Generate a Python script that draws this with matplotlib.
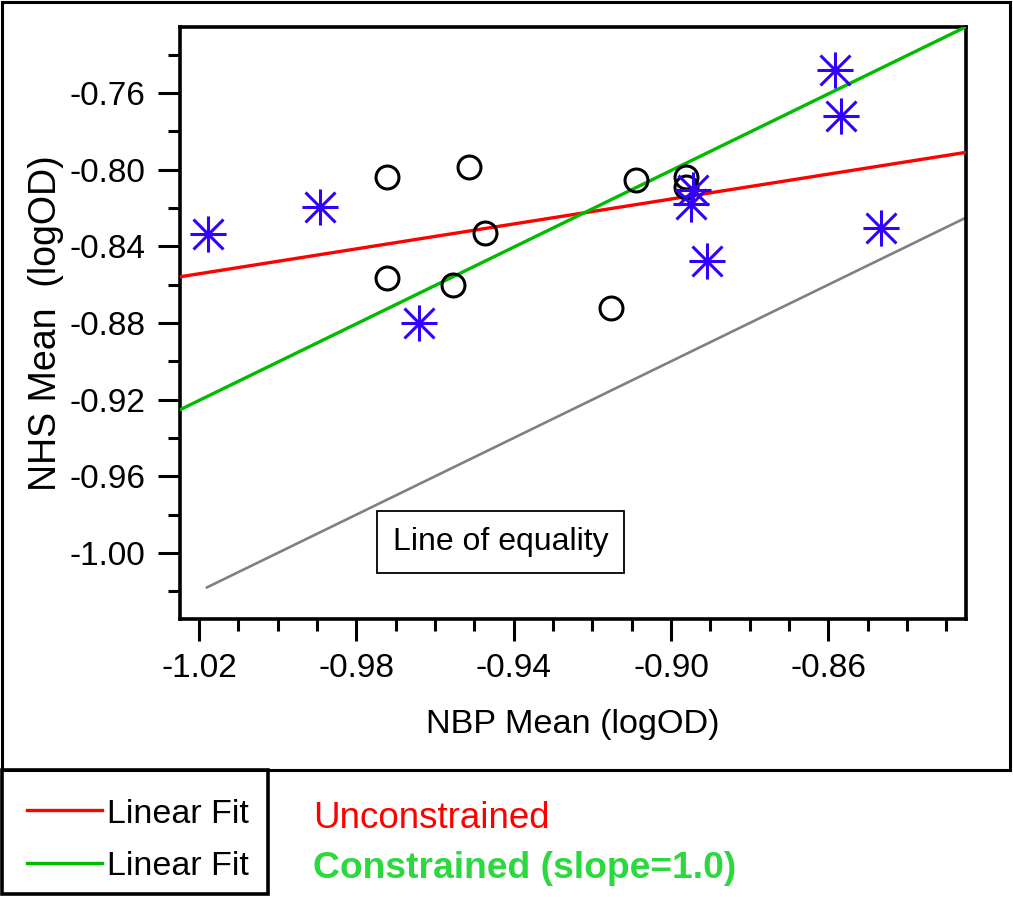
import numpy as np
import matplotlib
matplotlib.use('Agg')
import matplotlib.pyplot as plt
from matplotlib.path import Path
from matplotlib.lines import Line2D
from matplotlib.patches import Rectangle

plt.rcParams['font.family'] = ['Liberation Sans', 'DejaVu Sans']

# data
circle_x = [-0.9722, -0.9513, -0.9089, -0.8963, -0.8963, -0.9472, -0.9722, -0.9555, -0.9154]
circle_y = [-0.8037, -0.7984, -0.8054, -0.8037, -0.8092, -0.8329, -0.8567, -0.8602, -0.8723]
star_x = [-1.0177, -0.9892, -0.9641, -0.8944, -0.8950, -0.8909, -0.8584, -0.8567, -0.8467]
star_y = [-0.8337, -0.8196, -0.8801, -0.8106, -0.8179, -0.8475, -0.7480, -0.7718, -0.8303]

fit_x = [-1.025, -0.825]
unc_slope, unc_icpt = 0.325, -0.5228
con_slope, con_icpt = 1.0, 0.0996
equal_x = [-1.018, -0.825]

x_major = [-1.02, -0.98, -0.94, -0.90, -0.86]
y_major = [-1.00, -0.96, -0.92, -0.88, -0.84, -0.80, -0.76]

# asterisk marker: + arms plus slightly shorter diagonals
d = 0.83
star_path = Path([(-1, 0), (1, 0), (0, -1), (0, 1), (-d, -d), (d, d), (-d, d), (d, -d)],
                 [Path.MOVETO, Path.LINETO] * 4)

W, H = 1013, 897
fig = plt.figure(figsize=(W / 100, H / 100), dpi=100)
ax = fig.add_axes([179.5 / W, 1 - 619 / H, (966 - 179.5) / W, (619 - 27) / H])

fx = np.array(fit_x)
ax.plot(equal_x, equal_x, color='#808080', lw=1.9, zorder=2)
ax.plot(fx, unc_slope * fx + unc_icpt, color='#ff0000', lw=2.4, zorder=3)
ax.plot(fx, con_slope * fx + con_icpt, color='#00bb00', lw=2.4, zorder=3)
ax.plot(circle_x, circle_y, ls='none', marker='o', ms=16.5, mfc='none', mec='black', mew=2.2, zorder=4)
ax.plot(star_x, star_y, ls='none', marker=star_path, ms=26, mec='#3300ff', mew=2.2, zorder=5)

ax.set_xlim(-1.025, -0.825)
ax.set_ylim(-1.0345, -0.7255)
ax.set_xticks(x_major)
ax.set_xticklabels(['%.2f' % v for v in x_major])
ax.set_xticks(np.arange(-1.02, -0.825, 0.01), minor=True)
ax.set_yticks(y_major)
ax.set_yticklabels(['%.2f' % v for v in y_major])
ax.set_yticks(np.arange(-1.02, -0.73, 0.02), minor=True)
ax.tick_params(which='major', length=15.5, width=2.2, labelsize=24, pad=9, direction='out')
ax.tick_params(which='minor', length=8.5, width=2.2, direction='out')
for s in ax.spines.values():
    s.set_linewidth(2.6)

ax.set_xlabel('NBP Mean (logOD)', fontsize=24.7, labelpad=18)
ax.set_ylabel('NHS Mean  (logOD)', fontsize=27, labelpad=4)

ax.text(0.408, 0.13, 'Line of equality', transform=ax.transAxes, fontsize=23,
        ha='center', va='center',
        bbox=dict(boxstyle='square,pad=0.5', fc='white', ec='black', lw=1.3))

# outer frame and legend box
fig.patches.append(Rectangle((2 / W, 1 - 770 / H), 1008 / W, 768 / H, transform=fig.transFigure,
                             fill=False, ec='black', lw=2.2))
fig.patches.append(Rectangle((2 / W, 1 - 894 / H), 266 / W, 124 / H, transform=fig.transFigure,
                             fill=False, ec='black', lw=2.6))

fig.lines.append(Line2D([27 / W, 102 / W], [1 - 810 / H] * 2, transform=fig.transFigure,
                        color='#ff0000', lw=2.4))
fig.lines.append(Line2D([27 / W, 102 / W], [1 - 863 / H] * 2, transform=fig.transFigure,
                        color='#00bb00', lw=2.4))
fig.text(107 / W, 1 - 814 / H, 'Linear Fit', fontsize=24.5, va='center', ha='left')
fig.text(107 / W, 1 - 866 / H, 'Linear Fit', fontsize=24.5, va='center', ha='left')
fig.text(313 / W, 1 - 818 / H, 'Unconstrained', fontsize=26.5, color='#ff0000', va='center', ha='left')
fig.text(313 / W, 1 - 868 / H, 'Constrained (slope=1.0)', fontsize=26.8, color='#2bd93f',
         fontweight='bold', va='center', ha='left')

fig.savefig('out.png', dpi=100)
